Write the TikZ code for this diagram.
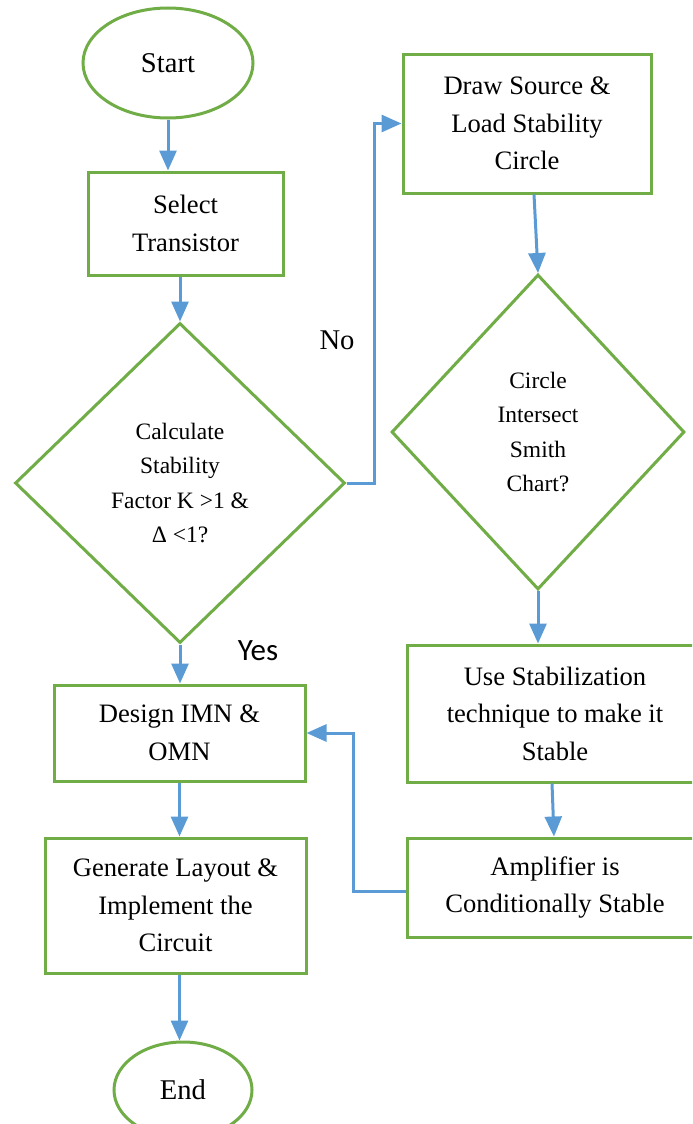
\documentclass[tikz,border=0pt]{standalone}
\usepackage{fontspec}
\setmainfont{Liberation Serif}
\newfontfamily\yesfont{Carlito}
\usepackage{tikz}
\usetikzlibrary{arrows.meta, positioning, shapes.geometric}
\definecolor{boxgreen}{RGB}{112,173,71}
\definecolor{flowblue}{RGB}{91,155,213}

\begin{document}
\begin{tikzpicture}[x=0.5pt, y=-0.5pt, >={Triangle[length=10pt, width=8.5pt]},
  box/.style={draw=boxgreen, line width=1.5pt, fill=white, align=center,
              inner sep=2pt, font=\fontsize{13.3}{18.8}\selectfont},
  term/.style={box, ellipse, font=\fontsize{14.3}{17}\selectfont},
  decide/.style={box, diamond, inner sep=0pt, font=\fontsize{11.75}{17.2}\selectfont},
  flow/.style={->, draw=flowblue, line width=1.5pt}]
  \clip (0,0) rectangle (692,1124);
  % left column
  \node[term, minimum width=85pt, minimum height=55pt] (start) at (168,63) {Start};
  \node[box, minimum width=97.5pt, minimum height=51.5pt] (select) at (185.5,223.5) {Select\\Transistor};
  \node[decide, minimum width=165pt, minimum height=160pt] (kcheck) at (180,483)
    {Calculate\\Stability\\Factor K >1 \&\\Δ <1?};
  \node[box, minimum width=125.5pt, minimum height=48pt] (match) at (179.5,733) {Design IMN \&\\OMN};
  \node[box, minimum width=130.5pt, minimum height=67.5pt] (layout) at (175.5,905.5)
    {Generate Layout \&\\Implement the\\Circuit};
  \node[term, minimum width=69pt, minimum height=48pt] (end) at (183,1090) {End};
  % right column
  \node[box, minimum width=124pt, minimum height=69.5pt] (circ) at (527,123.5)
    {Draw Source \&\\Load Stability\\Circle};
  \node[decide, minimum width=146.5pt, minimum height=157.5pt] (smith) at (538,432)
    {Circle\\Intersect\\Smith\\Chart?};
  \node[box, minimum width=148pt, minimum height=68.5pt] (fix) at (555,713.5)
    {Use Stabilization\\technique to make it\\Stable};
  \node[box, minimum width=148pt, minimum height=49.5pt] (cond) at (555,887.5)
    {Amplifier is\\Conditionally Stable};
  % labels
  \node[font=\fontsize{14.3}{17}\selectfont] (no) at (337,340) {No};
  \node[font=\yesfont\fontsize{15.5}{18}\selectfont] (yes) at (258,651) {Yes};
  % connectors
  \draw[flow] (start.south) -- (start.south |- select.north);
  \draw[flow] (kcheck.north |- select.south) -- (kcheck.north);
  \draw[flow] (kcheck.east) -- ++(28,0) |- (circ.west);
  \draw[flow] (kcheck.south) -- (kcheck.south |- match.north);
  \draw[flow] (match.south) -- (match.south |- layout.north);
  \draw[flow] (match.south |- layout.south) -- (match.south |- end.north);
  \draw[flow] ([xshift=3.5pt]circ.south) -- (smith.north);
  \draw[flow] (smith.south) -- (smith.south |- fix.north);
  \draw[flow] ([xshift=-1.5pt]fix.south) -- ([xshift=-0.5pt]cond.north);
  \draw[flow] ([yshift=-1.75pt]cond.west) -- ++(-52,0) |- (match.east);
\end{tikzpicture}
\end{document}
